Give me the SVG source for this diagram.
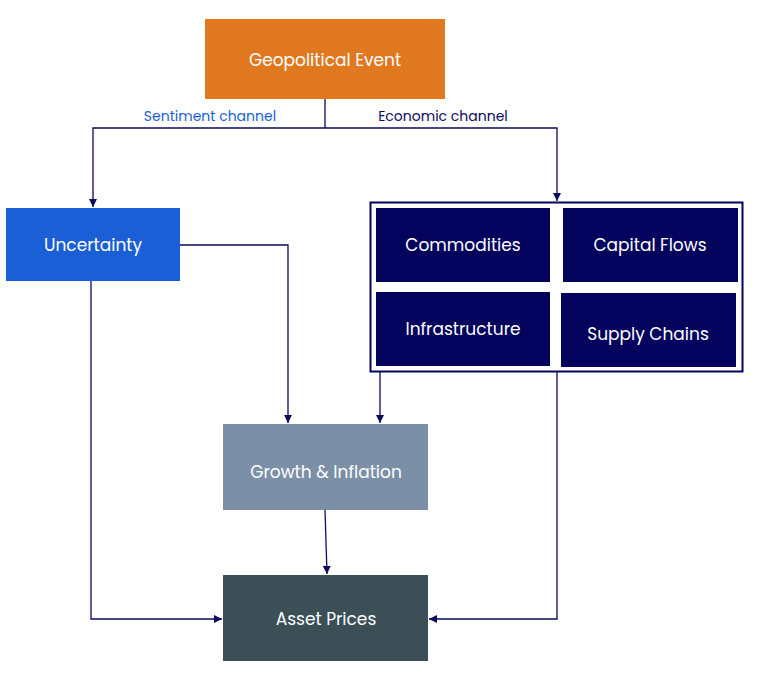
<svg xmlns="http://www.w3.org/2000/svg" width="765" height="678" viewBox="0 0 765 678">
<style>
text{font-family:Poppins,"Open Sans","Noto Sans",sans-serif;font-size:17px;fill:#fff;text-anchor:middle;dominant-baseline:central}
.lbl{font-size:14px}
.c path{fill:none;stroke:#0A0A5E;stroke-width:1.3}
.inner{fill:#03035E}
</style>
<defs><marker id="a" viewBox="0 0 10 10" refX="10" refY="5" markerWidth="8" markerHeight="8" markerUnits="userSpaceOnUse" orient="auto"><path d="M0,0L10,5L0,10z" fill="#0A0A5E"/></marker></defs>
<rect width="765" height="678" fill="#fff"/>
<g id="geo"><rect x="205" y="19" width="240" height="80" fill="#E07820"/><text x="325" y="60">Geopolitical Event</text></g>
<g id="unc"><rect x="6" y="208" width="174" height="73" fill="#1A5FD6"/><text x="93" y="245">Uncertainty</text></g>
<g id="econ"><rect x="370.5" y="202.5" width="372" height="169" fill="#fff" stroke="#03035E" stroke-width="2"/>
<g id="com"><rect class="inner" x="376" y="208" width="174" height="74"/><text x="463" y="245">Commodities</text></g>
<g id="cap"><rect class="inner" x="563" y="208" width="175" height="74"/><text x="650" y="245">Capital Flows</text></g>
<g id="inf"><rect class="inner" x="376" y="292" width="174" height="74"/><text x="463" y="329">Infrastructure</text></g>
<g id="sup"><rect class="inner" x="561" y="293" width="175" height="74"/><text x="648" y="334">Supply  Chains</text></g></g>
<g id="gi"><rect x="223" y="424" width="205" height="86" fill="#7B90A6"/><text x="326" y="472">Growth  &amp;  Inflation</text></g>
<g id="ap"><rect x="223" y="575" width="205" height="86" fill="#3C4F57"/><text x="326" y="619">Asset Prices</text></g>
<text class="lbl" x="210" y="116" style="fill:#1A5FD6">Sentiment channel</text>
<text class="lbl" x="443" y="116" style="fill:#0A0A5E">Economic channel</text>
<g class="c">
<path d="M325,99V128"/>
<path d="M325,128H93V207" marker-end="url(#a)"/>
<path d="M325,128H557V201" marker-end="url(#a)"/>
<path d="M180,245H288V423" marker-end="url(#a)"/>
<path d="M380,372V423" marker-end="url(#a)"/>
<path d="M91,281V619H222" marker-end="url(#a)"/>
<path d="M325,510L327,574" marker-end="url(#a)"/>
<path d="M557,372V619H429" marker-end="url(#a)"/>
</g>
</svg>
